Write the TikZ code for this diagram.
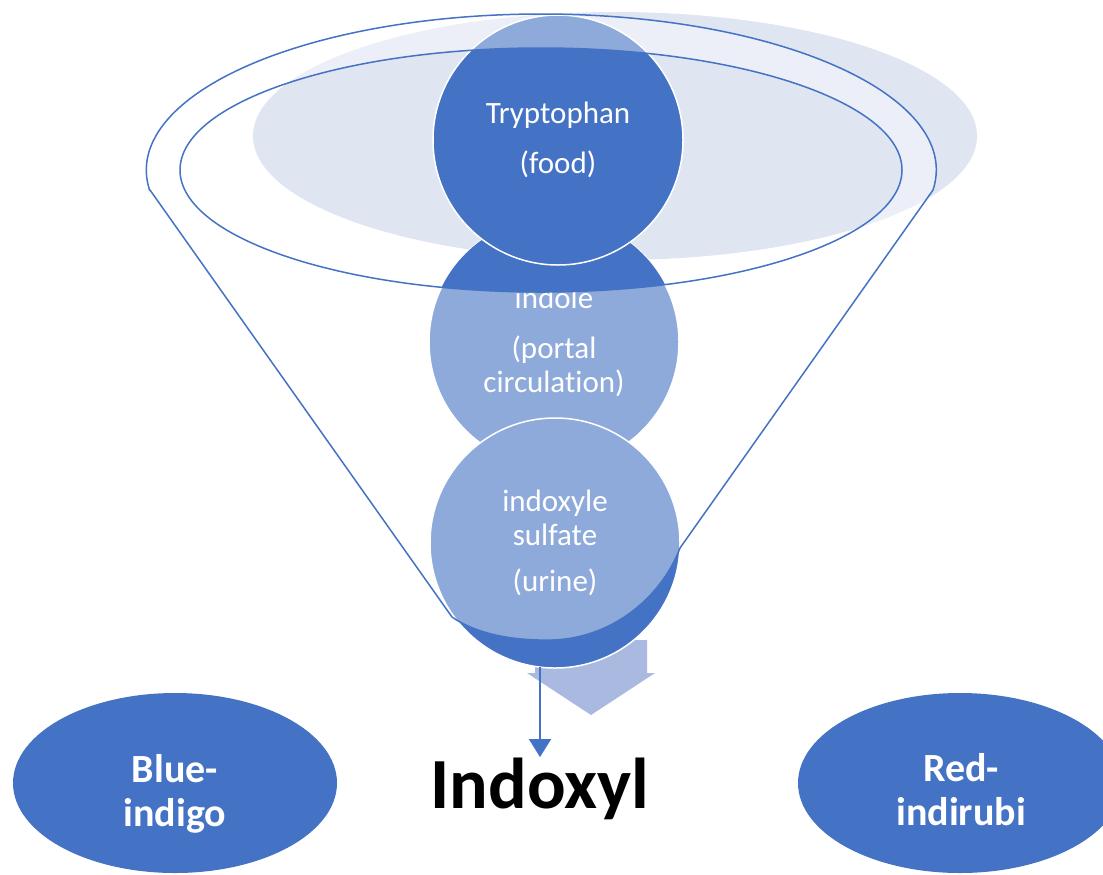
\documentclass[tikz,border=0pt]{standalone}
\usepackage{fontspec}
\setmainfont{Carlito}[Ligatures=NoCommon]
\usetikzlibrary{shapes.geometric,arrows.meta}
\definecolor{accent}{HTML}{4472C4}
\definecolor{haze}{HTML}{E0E5F2}
\definecolor{chute}{HTML}{A9B9E0}

\begin{document}
\begin{tikzpicture}[x=0.5pt,y=-0.5pt,
  stage/.style={circle,fill=accent,draw=white,line width=0.75pt,minimum size=125pt,
    inner sep=0pt,text=white,align=center,font=\fontsize{15.5}{17}\selectfont},
  dye/.style={ellipse,fill=accent,minimum width=162pt,minimum height=90pt},
  dyetext/.style={text=white,align=center,font=\fontsize{20}{22}\selectfont\bfseries},
  rim/.style={draw=accent,line width=0.75pt}]
  \useasboundingbox (0,0) rectangle (1103,874);
  % pale backdrop of the funnel mouth
  \fill[haze] (615,136) ellipse [x radius=362, y radius=124];
  % broad arrow behind the last stage
  \fill[chute] (535,640) -- (647,640) -- (647,673) -- (655,673) -- (591,715)
    -- (527,673) -- (535,673) -- cycle;
  % the three stages
  \node[stage] (indole) at (554,342) {indole\\[8pt](portal\\circulation)};
  \begin{scope}
    \clip (541,170) ellipse [x radius=361, y radius=122];
    \fill[accent] (indole.center) circle [radius=125];
  \end{scope}
  \node[stage] (tryptophan) at (558,140) {Tryptophan\\[8pt](food)};
  \node[stage] (sulfate) at (555,543) {indoxyle\\sulfate\\[6pt](urine)};
  % funnel: see-through body, open mouth
  \path[rim,fill=white,fill opacity=0.4,even odd rule]
    (150,190) -- (452,617) .. controls (475,633) and (510,641) .. (553,640)
    .. controls (610,638) and (660,600) .. (680,548) -- (933,190)
    arc [start angle=7.37, end angle=-187.37, x radius=395, y radius=156] -- cycle
    (541,170) ellipse [x radius=361, y radius=122];
  % product
  \coordinate (drop) at (540,667);
  \node[font=\fontsize{36}{40}\selectfont\bfseries,inner sep=0pt,anchor=base]
    (indoxyl) at (540,808) {Indoxyl};
  \draw[accent,line width=0.75pt,-{Triangle[width=11pt,length=9pt]}]
    (drop) -- (drop |- indoxyl.north);
  % the two dyes
  \node[dye] (blue) at (175,783) {};
  \node[dyetext] (bluename) at (175,794) {Blue-\\indigo};
  \node[dye] (red) at (960,783) {};
  \node[dyetext] (redname) at (961,790) {Red-\\indirubi};
\end{tikzpicture}
\end{document}
